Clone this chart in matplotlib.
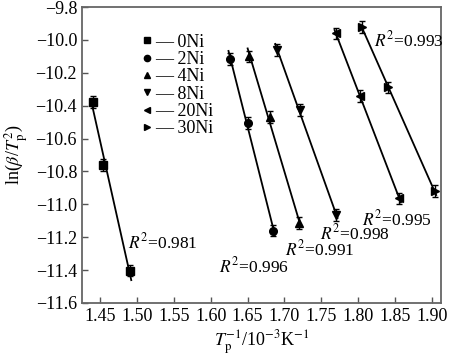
import numpy as np
import matplotlib
matplotlib.use("Agg")
import matplotlib.pyplot as plt
from matplotlib.lines import Line2D

plt.rcParams['font.family'] = ['Liberation Serif', 'DejaVu Serif']
plt.rcParams['mathtext.fontset'] = 'stix'

series = ["0Ni", "2Ni", "4Ni", "8Ni", "20Ni", "30Ni"]
markers = ["s", "o", "^", "v", "<", ">"]
x_0Ni = [1.440, 1.454, 1.490]
y_0Ni = [-10.376, -10.761, -11.404]
x_2Ni = [1.626, 1.650, 1.685]
y_2Ni = [-10.116, -10.505, -11.160]
x_4Ni = [1.652, 1.680, 1.720]
y_4Ni = [-10.100, -10.470, -11.115]
x_8Ni = [1.6895, 1.721, 1.770]
y_8Ni = [-10.060, -10.426, -11.065]
x_20Ni = [1.770, 1.802, 1.856]
y_20Ni = [-9.960, -10.340, -10.963]
x_30Ni = [1.8055, 1.840, 1.904]
y_30Ni = [-9.920, -10.288, -10.919]
yerr = 0.035
r2_labels = ["0.981", "0.996", "0.991", "0.998", "0.995", "0.993"]
r2_pos = [(1.4875, -11.229), (1.611, -11.375), (1.701, -11.273),
          (1.7484, -11.176), (1.805, -11.089), (1.8217, -10.0)]

xs = [x_0Ni, x_2Ni, x_4Ni, x_8Ni, x_20Ni, x_30Ni]
ys = [y_0Ni, y_2Ni, y_4Ni, y_8Ni, y_20Ni, y_30Ni]

fig = plt.figure(figsize=(4.5, 3.56), dpi=100)
ax = fig.add_axes([0.182, 0.149, 0.798, 0.831])

for xv, yv, m in zip(xs, ys, markers):
    xv = np.array(xv); yv = np.array(yv)
    k, b = np.polyfit(xv, yv, 1)
    xl = np.array([xv.min() - 0.002, xv.max() + 0.002])
    ax.plot(xl, k * xl + b, color='black', lw=1.3, zorder=2)
    ax.errorbar(xv, yv, yerr=yerr, fmt=m, color='black', ms=5.5,
                capsize=2.5, elinewidth=1.0, capthick=1.0, zorder=3)

for lab, (px, py) in zip(r2_labels, r2_pos):
    ax.text(px, py, r'$R^2$=' + lab, fontsize=12.5, ha='left', va='center')

handles = [Line2D([], [], marker=m, color='black', ls='none', ms=4.5) for m in markers]
leg = ax.legend(handles, ['— ' + s for s in series], loc='upper left',
                bbox_to_anchor=(0.145, 0.935), frameon=False, fontsize=13,
                handlelength=0.6, handletextpad=0.15, labelspacing=0.02,
                borderaxespad=0)

ax.set_xlim(1.425, 1.9125)
ax.set_ylim(-11.6, -9.8)
ax.set_xticks(np.arange(1.45, 1.901, 0.05))
ax.set_xticklabels([f"{v:.2f}" for v in np.arange(1.45, 1.901, 0.05)])
ax.set_yticks(np.arange(-11.6, -9.79, 0.2))
ax.set_yticklabels([f"{v:.1f}".replace('-', '\u2212') for v in np.arange(-11.6, -9.79, 0.2)])
ax.tick_params(direction='in', length=4, width=1.0, labelsize=13, color='#555555')
for s in ax.spines.values():
    s.set_color('#666666')
    s.set_linewidth(1.3)

ax.set_xlabel(r'$T_{\rm p}^{-1}$/10$^{-3}$K$^{-1}$', fontsize=13, labelpad=2)
ax.set_ylabel(r'ln($\beta$/$T_{\rm p}^{2}$)', fontsize=13, labelpad=4)

fig.savefig('out.png', dpi=100)
